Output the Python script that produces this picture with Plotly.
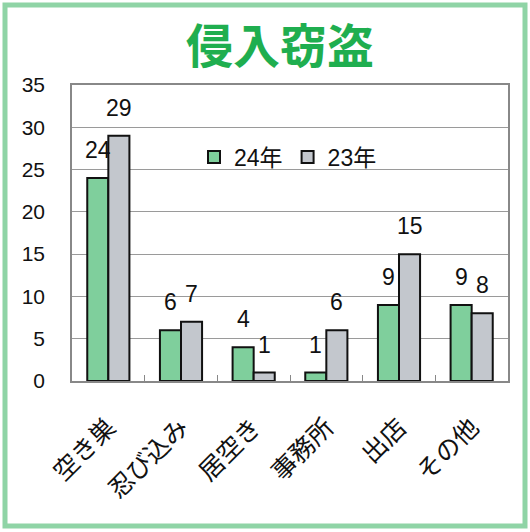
import plotly.graph_objects as go

categories = ["空き巣", "忍び込み", "居空き", "事務所", "出店", "その他"]
series_24 = [24, 6, 4, 1, 9, 9]
series_23 = [29, 7, 1, 6, 15, 8]
series_names = ["24年", "23年"]
y_ticks = [0, 5, 10, 15, 20, 25, 30, 35]

FONT = "Liberation Sans, Arial, Noto Sans CJK JP"
JP = "Noto Sans CJK JP, Liberation Sans"

W, H = 530, 532
ML, MR, MT, MB = 72, 22, 85, 151
PW = W - ML - MR
PH = H - MT - MB
BARGAP = 0.42
bar_px = PW / len(categories) * (1 - BARGAP) / 2

fig = go.Figure()
fig.add_trace(go.Bar(
    x=categories, y=series_24, name=series_names[0],
    marker=dict(color="#7fcf9c", line=dict(color="#111111", width=2)),
))
fig.add_trace(go.Bar(
    x=categories, y=series_23, name=series_names[1],
    marker=dict(color="#c3c7cd", line=dict(color="#111111", width=2)),
))

annotations = []
for series, sign in ((series_24, -1), (series_23, 1)):
    for c, v in zip(categories, series):
        annotations.append(dict(
            x=c, y=v, xref="x", yref="y", text=str(v), showarrow=False,
            xshift=sign * bar_px / 2, yshift=28, yanchor="middle",
            font=dict(family=FONT, size=23, color="#111111"),
        ))

fig.update_layout(
    width=W, height=H,
    margin=dict(l=ML, r=MR, t=MT, b=MB),
    paper_bgcolor="white", plot_bgcolor="white",
    barmode="group", bargap=BARGAP, bargroupgap=0,
    font=dict(family=FONT, size=20, color="#111111"),
    title=dict(text="<b>侵入窃盗</b>", x=(280 - 0) / W, xanchor="center",
               y=1 - 47 / H, yanchor="middle",
               font=dict(family=JP, size=47, color="#1fae4f")),
    legend=dict(orientation="h", x=(194 - ML) / PW, y=(381 - 157) / PH,
                xanchor="left", yanchor="middle",
                bgcolor="rgba(0,0,0,0)", font=dict(family=FONT, size=23),
                itemwidth=30, tracegroupgap=0),
    showlegend=True,
    annotations=annotations,
    xaxis=dict(
        tickangle=-45, tickfont=dict(family=JP, size=25, color="#111111"),
        showline=True, linecolor="#888888", linewidth=1.5, mirror=True,
        ticks="inside", tickson="boundaries", ticklen=6, tickcolor="#888888",
        showgrid=False, ticklabelstandoff=20,
    ),
    yaxis=dict(
        range=[0, 35], tickvals=y_ticks, ticktext=[str(v) for v in y_ticks],
        showgrid=True, gridcolor="#9a9a9a", gridwidth=1,
        showline=True, linecolor="#888888", linewidth=1.5, mirror=True,
        ticks="", ticklabelstandoff=21,
        tickfont=dict(family=FONT, size=21, color="#111111"),
        zeroline=False,
    ),
    shapes=[dict(
        type="rect", xref="paper", yref="paper",
        x0=(5 - ML) / PW, x1=(525 - ML) / PW,
        y0=(H - MB - 526) / PH, y1=(H - MB - 5) / PH,
        line=dict(color="#8fd4a6", width=5), fillcolor="rgba(0,0,0,0)", layer="below",
    )],
)

fig.write_html("out.html", config={"displayModeBar": False},
               post_script="document.body.style.margin='0';")
